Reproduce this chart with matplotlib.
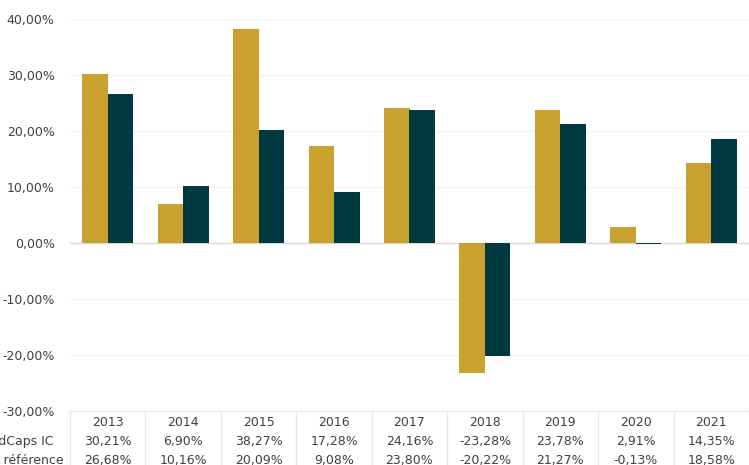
import matplotlib
matplotlib.use("Agg")
import matplotlib.pyplot as plt
import matplotlib.transforms as mtransforms
import numpy as np

# -----------------------------
# DATA
# -----------------------------
years = ["2013", "2014", "2015", "2016", "2017", "2018", "2019", "2020", "2021"]
fund = [30.21, 6.90, 38.27, 17.28, 24.16, -23.28, 23.78, 2.91, 14.35]
bench = [26.68, 10.16, 20.09, 9.08, 23.80, -20.22, 21.27, -0.13, 18.58]
row_labels = ["MidCaps IC", "Indice de référence"]
yticks = [-30, -20, -10, 0, 10, 20, 30, 40]

GOLD = "#C9A12E"
TEAL = "#003A40"
TXT = "#404040"
W, H = 749, 465

def pct(v):
    return f"{v:.2f}".replace(".", ",") + "%"

# -----------------------------
# FIGURE
# -----------------------------
fig = plt.figure(figsize=(W / 100, H / 100), dpi=100, facecolor="white")
ax = fig.add_axes([70 / W, (H - 411) / H, (W - 70) / W, (411 - 19) / H])

x = np.arange(len(years))
bw = 0.338
ax.bar(x - bw / 2, fund, width=bw, color=GOLD, zorder=3)
ax.bar(x + bw / 2, bench, width=bw, color=TEAL, zorder=3)

ax.set_xlim(-0.5, len(years) - 0.5)
ax.set_ylim(-30, 40)
ax.set_yticks(yticks)
ax.set_yticklabels([pct(v) for v in yticks], color=TXT, fontsize=9)
ax.tick_params(axis="y", length=0, pad=11)
ax.set_xticks([])
for s in ax.spines.values():
    s.set_visible(False)
for v in yticks:
    if v == 0:
        ax.axhline(0, color="#D9D9D9", lw=1, zorder=2)
    elif v != -30:
        ax.axhline(v, color="#EEF6F6", lw=1, zorder=1)

# -----------------------------
# DATA TABLE
# -----------------------------
tr = mtransforms.blended_transform_factory(ax.transData, fig.transFigure)
top = (H - 411) / H
line_c = "#DDEEF0"
ax.plot([-0.5, len(years) - 0.5], [top, top], transform=tr, color=line_c,
        lw=1, clip_on=False)
for i in range(len(years) + 1):
    ax.plot([i - 0.5, i - 0.5], [top, 0], transform=tr, color=line_c,
            lw=1, clip_on=False)

row_y = [(H - 422) / H, (H - 441) / H, (H - 460) / H]
for i, yr in enumerate(years):
    ax.text(i, row_y[0], yr, transform=tr, ha="center", va="center",
            color=TXT, fontsize=9)
    ax.text(i, row_y[1], pct(fund[i]), transform=tr, ha="center",
            va="center", color=TXT, fontsize=9)
    ax.text(i, row_y[2], pct(bench[i]), transform=tr, ha="center",
            va="center", color=TXT, fontsize=9)

# row labels run past the left edge, as in the source
for lab, yy, xr in zip(row_labels, row_y[1:], [53, 64]):
    fig.text(xr / W, yy, lab, ha="right", va="center", color=TXT, fontsize=9)

fig.savefig("out.png", dpi=100, facecolor="white")
